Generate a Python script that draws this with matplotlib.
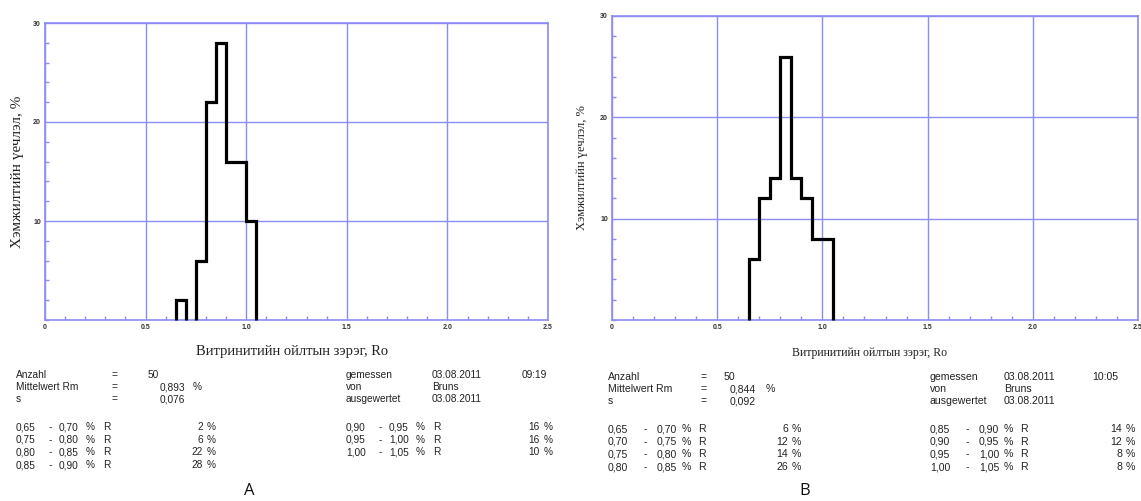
import matplotlib
matplotlib.use("Agg")
import matplotlib.pyplot as plt
import numpy as np
from matplotlib.ticker import MultipleLocator

# ---------------- data ----------------
bin_lo = [0.65, 0.70, 0.75, 0.80, 0.85, 0.90, 0.95, 1.00]
bin_hi = [0.70, 0.75, 0.80, 0.85, 0.90, 0.95, 1.00, 1.05]
freq_a = [2, 0, 6, 22, 28, 16, 16, 10]
freq_b = [6, 12, 14, 26, 14, 12, 8, 8]

x_ticks = [0, 0.5, 1.0, 1.5, 2.0, 2.5]
x_tick_labels = ["0", "0.5", "1.0", "1.5", "2.0", "2.5"]
y_ticks = [10, 20, 30]
y_tick_labels = ["10", "20", "30"]

ylabel = "Хэмжилтийн үечлэл, %"
xlabel = "Витринитийн ойлтын зэрэг, Ro"

count_a, mean_a, sd_a = "50", "0,893", "0,076"
count_b, mean_b, sd_b = "50", "0,844", "0,092"
date_a, time_a = "03.08.2011", "09:19"
date_b, time_b = "03.08.2011", "10:05"
operator = "Bruns"
panel_labels = ["A", "B"]

# ---------------- figure ----------------
W, H = 1141, 501
fig = plt.figure(figsize=(W / 100, H / 100), dpi=100)
fig.patch.set_facecolor("white")

GRID = "#8c8cf5"
SERIF = ["Liberation Serif", "DejaVu Serif"]
SANS = ["Liberation Sans", "DejaVu Sans"]


def fx(x):
    return x / W


def fy(y):
    return 1 - y / H


def axes_px(left, top, right, bottom):
    return fig.add_axes([fx(left), fy(bottom), (right - left) / W, (bottom - top) / H])


def draw_hist(ax, freqs):
    runs = []
    cur = []
    for lo, hi, v in zip(bin_lo, bin_hi, freqs):
        if v > 0:
            cur.append((lo, hi, v))
        else:
            if cur:
                runs.append(cur)
            cur = []
    if cur:
        runs.append(cur)
    for run in runs:
        edges = [r[0] for r in run] + [run[-1][1]]
        vals = [r[2] for r in run]
        ax.stairs(vals, edges, baseline=0, color="black", linewidth=2.3,
                  joinstyle="miter", zorder=3, clip_on=False)


def style_axes(ax, tick_fs):
    ax.set_xlim(0, 2.5)
    ax.set_ylim(0, 30)
    ax.set_xticks(x_ticks)
    ax.set_yticks(y_ticks)
    ax.set_xticklabels(x_tick_labels, fontsize=tick_fs, fontweight="bold",
                       color="#333333", family=SANS)
    ax.set_yticklabels(y_tick_labels, fontsize=tick_fs, fontweight="bold",
                       color="#333333", family=SANS)
    ax.xaxis.set_minor_locator(MultipleLocator(0.1))
    ax.yaxis.set_minor_locator(MultipleLocator(2))
    ax.tick_params(which="major", length=0, pad=3)
    ax.tick_params(which="minor", direction="in", length=3, width=1, color=GRID)
    ax.grid(True, which="major", color=GRID, linewidth=1.0, zorder=0)
    for s in ax.spines.values():
        s.set_color(GRID)
        s.set_linewidth(1.2)
    ax.set_axisbelow(True)


# Panel A
axA = axes_px(45, 23, 548, 320)
style_axes(axA, 5)
draw_hist(axA, freq_a)
fig.text(fx(18), fy(172), ylabel, rotation=90, ha="center", va="center",
         fontsize=11, family=SERIF, color="#222222")
fig.text(fx(292), fy(352), xlabel, ha="center", va="center",
         fontsize=10.5, family=SERIF, color="#222222")

# Panel B
axB = axes_px(612, 16, 1138, 320)
style_axes(axB, 5)
draw_hist(axB, freq_b)
fig.text(fx(582), fy(168), ylabel, rotation=90, ha="center", va="center",
         fontsize=9, family=SERIF, color="#222222")
fig.text(fx(870), fy(353), xlabel, ha="center", va="center",
         fontsize=8.5, family=SERIF, color="#222222")

# ---------------- text tables ----------------
TXT = "#222222"


def t(x, y, s, fs, ha="left"):
    fig.text(fx(x), fy(y), s, ha=ha, va="center", fontsize=fs, family=SANS, color=TXT)


def fmt(v):
    return f"{v:.2f}".replace(".", ",")


def info_block(x0, xeq, xval, xmean, xpct, xr, xr2, xr3, ys, count, mean, sd,
               date, time, fs):
    y1, y2, y3 = ys
    t(x0, y1, "Anzahl", fs)
    t(xeq, y1, "=", fs)
    t(xval, y1, count, fs)
    t(x0, y2, "Mittelwert Rm", fs)
    t(xeq, y2, "=", fs)
    t(xmean, y2, mean, fs)
    t(xpct, y2, "%", fs)
    t(x0, y3, "s", fs)
    t(xeq, y3, "=", fs)
    t(xmean, y3, sd, fs)
    t(xr, y1, "gemessen", fs)
    t(xr2, y1, date, fs)
    t(xr3, y1, time, fs)
    t(xr, y2, "von", fs)
    t(xr2, y2, operator, fs)
    t(xr, y3, "ausgewertet", fs)
    t(xr2, y3, date, fs)


def rows(x0, offs, xnum_end, entries, y0, dy, fs):
    o_dash, o_hi, o_pct, o_r = offs
    for i, (lo, hi, v) in enumerate(entries):
        y = y0 + i * dy
        t(x0, y, fmt(lo), fs)
        t(x0 + o_dash, y, "-", fs)
        t(x0 + o_hi, y, fmt(hi), fs)
        t(x0 + o_pct, y, "%", fs)
        t(x0 + o_r, y, "R", fs)
        t(xnum_end, y, str(v), fs, ha="right")
        t(xnum_end + 4, y, "%", fs)


entries_a = [(lo, hi, v) for lo, hi, v in zip(bin_lo, bin_hi, freq_a) if v > 0]
entries_b = [(lo, hi, v) for lo, hi, v in zip(bin_lo, bin_hi, freq_b) if v > 0]

FSA = 7.3
info_block(16, 112, 148, 160, 193, 346, 432, 522, (375, 387, 399),
           count_a, mean_a, sd_a, date_a, time_a, FSA)
rows(16, (33, 43, 70, 87), 203, entries_a[:4], 427, 12.7, FSA)
rows(346, (33, 43, 70, 87), 540, entries_a[4:], 427, 12.7, FSA)

FSB = 7.6
info_block(608, 700, 724, 730, 766, 930, 1004, 1092, (377, 389, 401),
           count_b, mean_b, sd_b, date_b, time_b, FSB)
rows(608, (36, 49, 74, 90), 788, entries_b[:4], 429, 12.7, FSB)
rows(930, (36, 49, 74, 90), 1122, entries_b[4:], 429, 12.7, FSB)

fig.text(fx(249), fy(491), panel_labels[0], ha="center", va="center",
         fontsize=12, family=["Open Sans", "DejaVu Sans"], color="#111111")
fig.text(fx(805), fy(491), panel_labels[1], ha="center", va="center",
         fontsize=12, family=["Open Sans", "DejaVu Sans"], color="#111111")

fig.savefig("out.png", dpi=100, facecolor="white")
